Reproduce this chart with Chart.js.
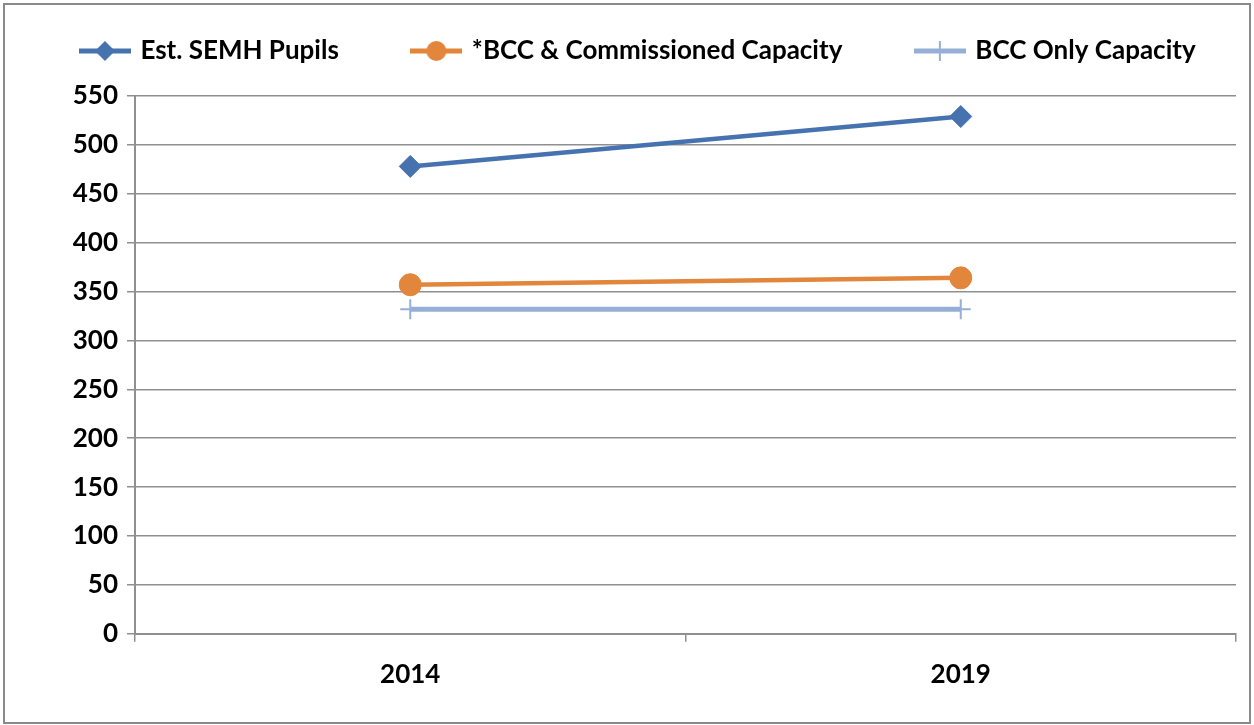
<!DOCTYPE html>
<html>
<head>
<meta charset="utf-8">
<script src="https://cdn.jsdelivr.net/npm/chart.js@4/dist/chart.umd.min.js"></script>
<style>
  html, body { margin: 0; padding: 0; background: #fff; }
  #wrap { position: relative; width: 1254px; height: 725px; }
</style>
</head>
<body>
<div id="wrap"><canvas id="chart"></canvas></div>
<script>
  // ===== data =====
  const years        = ['2014', '2019'];
  const semhPupils   = [478, 529];
  const bccCommCap   = [357, 364];
  const bccOnlyCap   = [332, 332];
  const seriesNames  = ['Est. SEMH Pupils', '*BCC & Commissioned Capacity', 'BCC Only Capacity'];
  const yTicks       = { min: 0, max: 550, step: 50 };

  const BLUE   = '#4672b0';
  const ORANGE = '#e2863b';
  const LIGHT  = '#95afd6';
  const GRID   = '#8f8f8f';

  // legend swatch: line through a marker, like the office-style legend
  function swatch(color, marker) {
    const c = document.createElement('canvas');
    c.width = 52; c.height = 24;
    const g = c.getContext('2d');
    g.strokeStyle = color; g.fillStyle = color;
    g.lineWidth = 5;
    g.beginPath(); g.moveTo(0, 12); g.lineTo(52, 12); g.stroke();
    if (marker === 'diamond') {
      g.beginPath(); g.moveTo(26, 2); g.lineTo(36, 12); g.lineTo(26, 22); g.lineTo(16, 12); g.closePath(); g.fill();
    } else if (marker === 'circle') {
      g.beginPath(); g.arc(26, 12, 10, 0, Math.PI * 2); g.fill();
    } else {
      g.lineWidth = 2;
      g.beginPath(); g.moveTo(26, 2); g.lineTo(26, 22); g.stroke();
    }
    return c;
  }
  const swatches = [swatch(BLUE, 'diamond'), swatch(ORANGE, 'circle'), swatch(LIGHT, 'cross')];

  // outer frame + white background
  const frame = {
    id: 'frame',
    beforeDraw(chart) {
      const { ctx, width, height } = chart;
      ctx.save();
      ctx.fillStyle = '#fff';
      ctx.fillRect(0, 0, width, height);
      ctx.strokeStyle = '#8a8a8a';
      ctx.lineWidth = 2;
      ctx.strokeRect(4, 4, width - 8, height - 6);
      ctx.restore();
    }
  };

  // keep the legend on one row, more room under it, nudge it to the page centre
  const legendGap = {
    id: 'legendGap',
    beforeInit(chart) {
      const fit = chart.legend.fit;
      chart.legend.fit = function () {
        const mw = this.maxWidth;
        this.maxWidth = mw + 200;
        fit.call(this);
        this.maxWidth = mw;
        this.width = Math.min(this.width, mw);
        this.height += 22;
      };
    },
    afterLayout(chart) {
      chart.legend.left -= 58;
      chart.legend.right += 100;
    }
  };

  const font = { family: 'Lato, "Open Sans", sans-serif', size: 26, weight: 'bold' };

  new Chart(document.getElementById('chart').getContext('2d'), {
    type: 'line',
    data: {
      labels: years,
      datasets: [
        { label: seriesNames[0], data: semhPupils, borderColor: BLUE, backgroundColor: BLUE, borderWidth: 4.5,
          pointStyle: 'rectRot', pointRadius: 11, pointBorderWidth: 1, pointBorderColor: BLUE, pointBackgroundColor: BLUE },
        { label: seriesNames[1], data: bccCommCap, borderColor: ORANGE, backgroundColor: ORANGE, borderWidth: 4.5,
          pointStyle: 'circle', pointRadius: 11, pointBorderWidth: 1, pointBorderColor: ORANGE, pointBackgroundColor: ORANGE },
        { label: seriesNames[2], data: bccOnlyCap, borderColor: LIGHT, backgroundColor: LIGHT, borderWidth: 5,
          pointStyle: 'cross', pointRadius: 10, pointBorderWidth: 2, pointBorderColor: LIGHT }
      ]
    },
    options: {
      responsive: true,
      maintainAspectRatio: false,
      animation: false,
      layout: { padding: { top: -37, left: 0, right: 18, bottom: 18 } },
      plugins: {
        tooltip: { enabled: false },
        legend: {
          display: true,
          position: 'top',
          labels: {
            usePointStyle: true,
            pointStyleWidth: 45,
            padding: 75,
            color: '#000',
            font,
            generateLabels: (chart) => chart.data.datasets.map((ds, i) => ({
              text: ds.label,
              pointStyle: swatches[i],
              fillStyle: ds.borderColor,
              strokeStyle: ds.borderColor,
              lineWidth: 0,
              hidden: false,
              datasetIndex: i
            }))
          }
        }
      },
      scales: {
        x: {
          offset: true,
          grid: { offset: true, drawOnChartArea: false, drawTicks: true, tickLength: 8, color: GRID, lineWidth: 1.5 },
          border: { color: GRID, width: 2 },
          ticks: { color: '#000', font, padding: 17 }
        },
        y: {
          min: yTicks.min,
          max: yTicks.max,
          ticks: { stepSize: yTicks.step, color: '#000', font, padding: 9 },
          grid: { color: GRID, lineWidth: 1.5, tickLength: 8 },
          border: { color: GRID, width: 2 },
          afterFit: (scale) => { scale.width = 135; }
        }
      }
    },
    plugins: [frame, legendGap]
  });
</script>
</body>
</html>
